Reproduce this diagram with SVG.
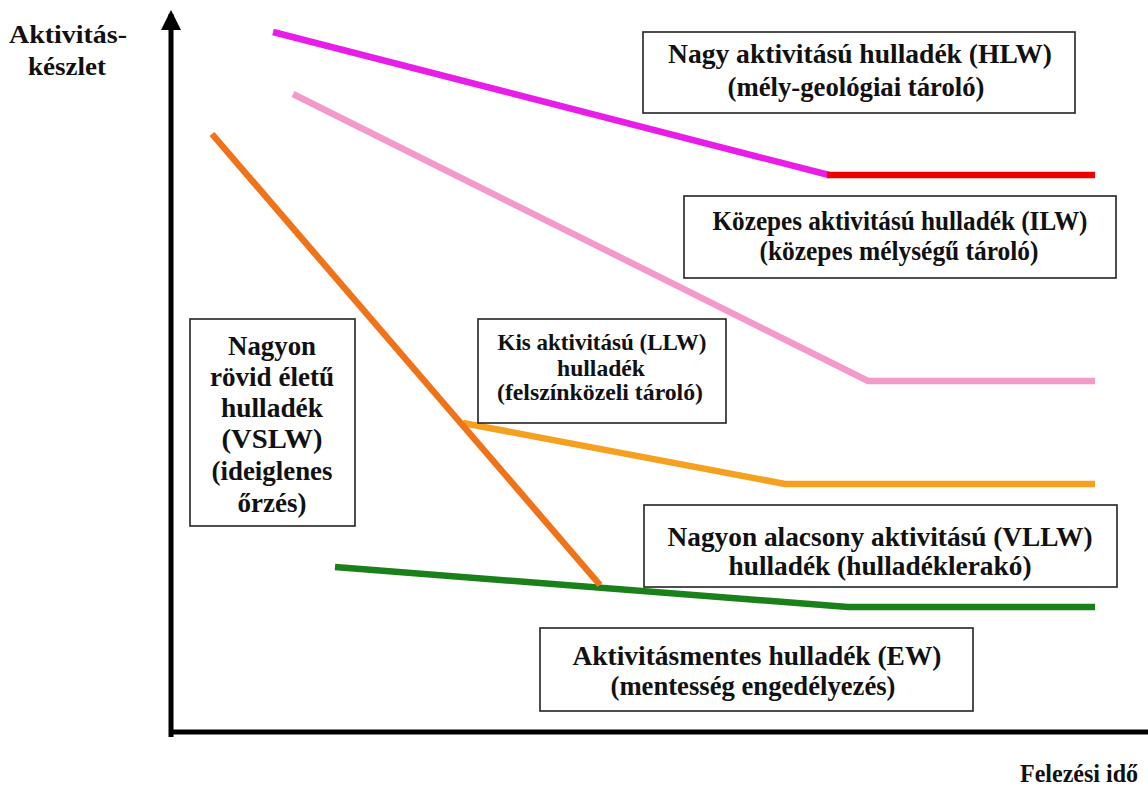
<svg xmlns="http://www.w3.org/2000/svg" width="1148" height="787" viewBox="0 0 1148 787">
<style>
text{font-family:"Liberation Serif","Times New Roman",serif;font-weight:bold;fill:#111;text-anchor:middle}
.t27{font-size:28px}
.t23{font-size:24px}
.t25{font-size:26px}
.box{fill:#fff;stroke:#222;stroke-width:1.6}
.ln{fill:none;stroke-width:6.5;stroke-linejoin:miter;stroke-linecap:butt}
.ax{stroke:#000;stroke-width:5;fill:none}
</style>
<defs>
<marker id="arr" viewBox="0 0 10 10" refX="8" refY="5" markerWidth="4" markerHeight="4" orient="auto" markerUnits="strokeWidth">
<path d="M0,0 L10,5 L0,10 z" fill="#000"/>
</marker>
</defs>
<rect width="1148" height="787" fill="#fff"/>
<g id="axes">
<line class="ax" x1="171" y1="737" x2="171" y2="14" marker-end="url(#arr)"/>
<line class="ax" x1="169" y1="732" x2="1148" y2="732"/>
<text class="t25" x="68" y="43" textLength="118" lengthAdjust="spacingAndGlyphs">Aktivitás-</text>
<text class="t25" x="67" y="75" textLength="78" lengthAdjust="spacingAndGlyphs">készlet</text>
<text class="t25" x="1079" y="782" textLength="118" lengthAdjust="spacingAndGlyphs">Felezési idő</text>
</g>
<g id="connectors">
<polyline class="ln" stroke="#E81EE8" points="273,32 829,175"/>
<polyline class="ln" stroke="#EE0000" points="827,175 1095,175"/>
<polyline class="ln" stroke="#F49ACB" points="293,94 868,381 1095,381"/>
<polyline class="ln" stroke="#F6A020" points="463,423 785,484 1095,484"/>
<polyline class="ln" stroke="#1A801A" points="335,567 848,607 1095,607"/>
<polyline class="ln" stroke="#F07319" points="212,134 600,585"/>
</g>
<g id="hlw">
<rect class="box" x="643" y="32" width="432" height="81"/>
<text class="t27" x="860" y="63" textLength="384" lengthAdjust="spacingAndGlyphs">Nagy aktivitású hulladék (HLW)</text>
<text class="t27" x="856" y="96" textLength="257" lengthAdjust="spacingAndGlyphs">(mély-geológiai tároló)</text>
</g>
<g id="ilw">
<rect class="box" x="684" y="196" width="432" height="82"/>
<text class="t27" x="900" y="230" textLength="375" lengthAdjust="spacingAndGlyphs">Közepes aktivitású hulladék (ILW)</text>
<text class="t27" x="899" y="260" textLength="279" lengthAdjust="spacingAndGlyphs">(közepes mélységű tároló)</text>
</g>
<g id="vslw">
<rect class="box" x="190" y="319" width="165" height="207"/>
<text class="t27" x="272" y="355" textLength="88" lengthAdjust="spacingAndGlyphs">Nagyon</text>
<text class="t27" x="272" y="386" textLength="124" lengthAdjust="spacingAndGlyphs">rövid életű</text>
<text class="t27" x="272" y="417" textLength="102" lengthAdjust="spacingAndGlyphs">hulladék</text>
<text class="t27" x="272" y="448" textLength="101" lengthAdjust="spacingAndGlyphs">(VSLW)</text>
<text class="t27" x="272" y="480" textLength="121" lengthAdjust="spacingAndGlyphs">(ideiglenes</text>
<text class="t27" x="272" y="512" textLength="69" lengthAdjust="spacingAndGlyphs">őrzés)</text>
</g>
<g id="llw">
<rect class="box" x="478" y="319" width="248" height="104"/>
<text class="t23" x="602" y="350" textLength="209" lengthAdjust="spacingAndGlyphs">Kis aktivitású (LLW)</text>
<text class="t23" x="601" y="376" textLength="88" lengthAdjust="spacingAndGlyphs">hulladék</text>
<text class="t23" x="600" y="400" textLength="206" lengthAdjust="spacingAndGlyphs">(felszínközeli tároló)</text>
</g>
<g id="vllw">
<rect class="box" x="644" y="505" width="473" height="82"/>
<text class="t27" x="880" y="546" textLength="425" lengthAdjust="spacingAndGlyphs">Nagyon alacsony aktivitású (VLLW)</text>
<text class="t27" x="880" y="575" textLength="303" lengthAdjust="spacingAndGlyphs">hulladék (hulladéklerakó)</text>
</g>
<g id="ew">
<rect class="box" x="540" y="628" width="433" height="83"/>
<text class="t27" x="757" y="665" textLength="369" lengthAdjust="spacingAndGlyphs">Aktivitásmentes hulladék (EW)</text>
<text class="t27" x="753" y="695" textLength="285" lengthAdjust="spacingAndGlyphs">(mentesség engedélyezés)</text>
</g>
</svg>
